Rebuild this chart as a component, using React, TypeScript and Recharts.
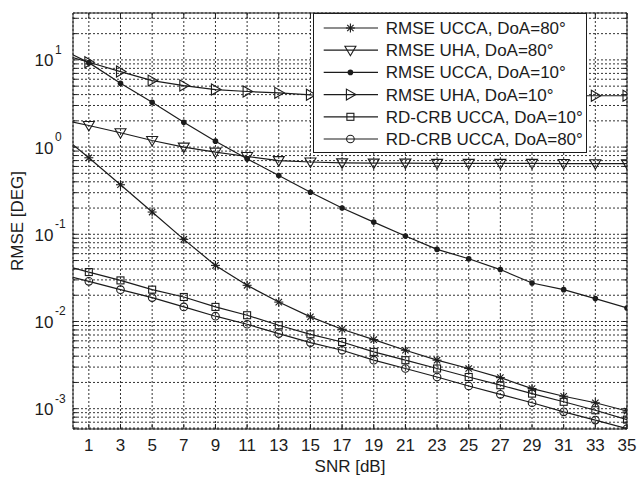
import { LineChart, Line, XAxis, YAxis, CartesianGrid, Legend } from 'recharts';

const FONT = 'Arial, "Liberation Sans", Helvetica, sans-serif';
const INK = '#1c1c1c';

// SNR points (the -1 dB point sits just left of the visible axis and is clipped)
const snr = [-1, 1, 3, 5, 7, 9, 11, 13, 15, 17, 19, 21, 23, 25, 27, 29, 31, 33, 35];

const uccaDoa80 = [1.5, 0.754, 0.37, 0.18, 0.0875, 0.044, 0.026, 0.0167, 0.0113, 0.00815, 0.0062, 0.00468, 0.0036, 0.00289, 0.00227, 0.0017, 0.00139, 0.00117, 0.00094];
const uhaDoa80 = [2.1, 1.77, 1.46, 1.19, 1.0, 0.875, 0.78, 0.7, 0.675, 0.66, 0.655, 0.655, 0.65, 0.65, 0.65, 0.65, 0.648, 0.645, 0.645];
const uccaDoa10 = [14, 9.3, 5.4, 3.27, 1.93, 1.17, 0.734, 0.473, 0.304, 0.2, 0.138, 0.0955, 0.0671, 0.0525, 0.0394, 0.0276, 0.0232, 0.0183, 0.0143];
const uhaDoa10 = [12, 9.39, 7.35, 5.79, 5.08, 4.57, 4.34, 4.19, 3.98, 3.95, 3.92, 3.9, 3.9, 3.89, 3.89, 3.88, 3.88, 3.88, 3.88];
const crbDoa10 = [0.046, 0.0369, 0.0296, 0.0232, 0.0191, 0.0147, 0.0118, 0.00905, 0.00713, 0.00582, 0.00448, 0.0036, 0.00289, 0.00231, 0.00186, 0.00149, 0.0012, 0.00096, 0.00075];
const crbDoa80 = [0.0356, 0.0289, 0.0232, 0.0188, 0.0147, 0.0115, 0.0093, 0.00727, 0.00573, 0.00468, 0.0036, 0.00289, 0.00231, 0.00182, 0.00146, 0.00117, 0.00092, 0.00074, 0.00059];

const xTicks = [1, 3, 5, 7, 9, 11, 13, 15, 17, 19, 21, 23, 25, 27, 29, 31, 33, 35];
const yTicks = [
  6e-4, 7e-4, 8e-4, 9e-4,
  1e-3, 2e-3, 3e-3, 4e-3, 5e-3, 6e-3, 7e-3, 8e-3, 9e-3,
  1e-2, 2e-2, 3e-2, 4e-2, 5e-2, 6e-2, 7e-2, 8e-2, 9e-2,
  0.1, 0.2, 0.3, 0.4, 0.5, 0.6, 0.7, 0.8, 0.9,
  1, 2, 3, 4, 5, 6, 7, 8, 9,
  10, 20, 30,
];
const yDomain = [5.85e-4, 34.5];

const series = [
  { key: 'uccaDoa80', name: 'RMSE UCCA, DoA=80°', marker: 'star' },
  { key: 'uhaDoa80', name: 'RMSE UHA, DoA=80°', marker: 'tdown' },
  { key: 'uccaDoa10', name: 'RMSE UCCA, DoA=10°', marker: 'dot' },
  { key: 'uhaDoa10', name: 'RMSE UHA, DoA=10°', marker: 'tright' },
  { key: 'crbDoa10', name: 'RD-CRB UCCA, DoA=10°', marker: 'square' },
  { key: 'crbDoa80', name: 'RD-CRB UCCA, DoA=80°', marker: 'circle' },
];

const data = snr.map((s, i) => ({
  snr: s,
  uccaDoa80: uccaDoa80[i],
  uhaDoa80: uhaDoa80[i],
  uccaDoa10: uccaDoa10[i],
  uhaDoa10: uhaDoa10[i],
  crbDoa10: crbDoa10[i],
  crbDoa80: crbDoa80[i],
}));

function Marker({ kind, cx, cy }: { kind: string; cx: number; cy: number }) {
  const s = { stroke: INK, strokeWidth: 1.1, fill: 'none' };
  switch (kind) {
    case 'star': {
      const r = 4.5;
      const d = 3.2;
      return (
        <g {...s}>
          <line x1={cx - r} y1={cy} x2={cx + r} y2={cy} />
          <line x1={cx} y1={cy - r} x2={cx} y2={cy + r} />
          <line x1={cx - d} y1={cy - d} x2={cx + d} y2={cy + d} />
          <line x1={cx - d} y1={cy + d} x2={cx + d} y2={cy - d} />
        </g>
      );
    }
    case 'tdown':
      return <polygon {...s} points={`${cx - 5.5},${cy - 4} ${cx + 5.5},${cy - 4} ${cx},${cy + 5.5}`} />;
    case 'tright':
      return <polygon {...s} points={`${cx - 4},${cy - 5.5} ${cx - 4},${cy + 5.5} ${cx + 5.5},${cy}`} />;
    case 'dot':
      return <circle cx={cx} cy={cy} r={2.8} fill={INK} stroke="none" />;
    case 'square':
      return <rect {...s} x={cx - 3.5} y={cy - 3.5} width={7} height={7} />;
    default:
      return <circle {...s} cx={cx} cy={cy} r={3.8} />;
  }
}

function YTick(props: any) {
  const { x, y, payload } = props;
  const e = Math.log10(payload.value);
  const exp = Math.round(e);
  if (Math.abs(e - exp) > 1e-6) return null;
  return (
    <g fontFamily={FONT}>
      <text x={x} y={y + 6.5} textAnchor="end" fontSize={17} fill={INK}>10</text>
      <text x={x + 1.5} y={y - 6} textAnchor="start" fontSize={12} fill={INK}>{exp}</text>
    </g>
  );
}

function LegendBox() {
  return (
    <svg width={274} height={140} style={{ display: 'block', overflow: 'visible' }}>
      <rect x={0.5} y={0.5} width={273} height={139} fill="#fff" stroke={INK} />
      {series.map((s, i) => {
        const y = 15 + i * 22.2;
        return (
          <g key={s.key}>
            <line x1={10.7} x2={65} y1={y} y2={y} stroke={INK} strokeWidth={1.2} />
            <Marker kind={s.marker} cx={37.4} cy={y} />
            <text x={72.7} y={y + 6} fontSize={17} fill={INK} fontFamily={FONT}>{s.name}</text>
          </g>
        );
      })}
    </svg>
  );
}

export default function App() {
  return (
    <div style={{ position: 'absolute', left: 0, top: 0, width: 638, height: 479, background: '#fff' }}>
      <LineChart
        width={638}
        height={479}
        data={data}
        margin={{ top: 12, right: 10, bottom: 0, left: 0 }}
        style={{ fontFamily: FONT }}
      >
        <CartesianGrid stroke="#333" strokeDasharray="2 2" strokeWidth={1} />
        <XAxis
          dataKey="snr"
          type="number"
          domain={[0, 35]}
          allowDataOverflow
          ticks={xTicks}
          interval={0}
          tickSize={-5}
          tickMargin={15}
          tick={{ fontSize: 17, fill: INK }}
          stroke={INK}
          height={50}
          label={{
            content: (p: any) => {
              const vb = p.viewBox;
              return (
                <text x={vb.x + vb.width / 2} y={vb.y + 43} textAnchor="middle" fontSize={17} fill={INK} fontFamily={FONT}>
                  SNR [dB]
                </text>
              );
            },
          }}
        />
        <XAxis
          xAxisId="top"
          orientation="top"
          dataKey="snr"
          type="number"
          domain={[0, 35]}
          allowDataOverflow
          ticks={xTicks}
          interval={0}
          tickSize={-5}
          tickFormatter={() => ''}
          stroke={INK}
          height={1}
        />
        <YAxis
          scale="log"
          domain={yDomain}
          allowDataOverflow
          ticks={yTicks}
          interval={0}
          tickSize={-4}
          tickMargin={23.5}
          tick={<YTick />}
          stroke={INK}
          width={73}
          label={{
            content: (p: any) => {
              const vb = p.viewBox;
              const cy = vb.y + vb.height / 2;
              return (
                <text x={22.5} y={cy} transform={`rotate(-90, 22.5, ${cy})`} textAnchor="middle" fontSize={17} fill={INK} fontFamily={FONT}>
                  RMSE [DEG]
                </text>
              );
            },
          }}
        />
        <YAxis
          yAxisId="right"
          orientation="right"
          scale="log"
          domain={yDomain}
          allowDataOverflow
          ticks={yTicks}
          interval={0}
          tickSize={-4}
          tickFormatter={() => ''}
          stroke={INK}
          width={1}
        />
        {series.map((s) => (
          <Line
            key={s.key}
            dataKey={s.key}
            name={s.name}
            type="linear"
            stroke={INK}
            strokeWidth={1.2}
            activeDot={false}
            isAnimationActive={false}
            dot={(p: any) =>
              p.cx == null || p.cy == null ? (
                <g key={`${s.key}-${p.index}`} />
              ) : (
                <Marker key={`${s.key}-${p.index}`} kind={s.marker} cx={p.cx} cy={p.cy} />
              )
            }
          />
        ))}
        <Legend
          layout="horizontal"
          verticalAlign="middle"
          align="center"
          wrapperStyle={{ position: 'absolute', left: 313, top: 13, width: 274, height: 140 }}
          content={() => <LegendBox />}
        />
      </LineChart>
    </div>
  );
}
